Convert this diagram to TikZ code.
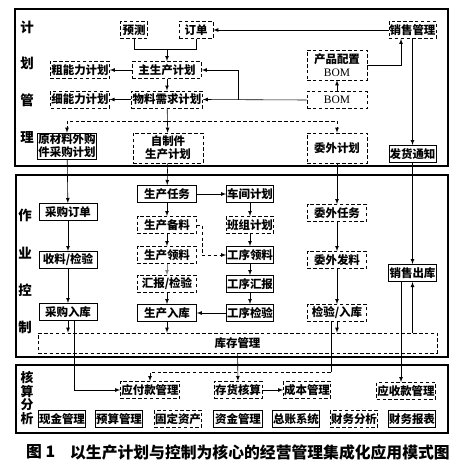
\documentclass[tikz,border=0pt]{standalone}
\usepackage{fontspec}
\setmainfont{Liberation Serif}
\newfontfamily\cjk{Noto Sans CJK SC}
\usepackage{tikz}
\usetikzlibrary{calc}
\usetikzlibrary{shapes,arrows}

\begin{document}
\begin{tikzpicture}[x=0.03cm,y=-0.03cm]
			\tikzstyle{every node}=[font=\cjk\bfseries\fontsize{9.8}{11}\selectfont]
			\tikzstyle{box}=[draw, line width=0.5pt, inner sep=0.5pt, minimum height=0.52cm, minimum width=1.77cm, align=center]
			\tikzstyle{dbox}=[box, densely dashed]
			\tikzstyle{frame}=[line width=1pt]
			\tikzstyle{side}=[font=\cjk\bfseries\fontsize{11.5}{12}\selectfont]
			\useasboundingbox (0,0) rectangle (463,474);
			
			% frames
			\draw [frame] (15,9) rectangle (448,166);
			\draw [frame] (16,175) rectangle (448,357);
			\draw [frame] (16,365) rectangle (448,433);
			
			\node [side] (lj) at (27,27) {计};
			\node [side] (lh) at (27,63) {划};
			\node [side] (lg) at (27,100) {管};
			\node [side] (ll) at (27,137) {理};
			\node [side] (lz) at (25,215) {作};
			\node [side] (ly) at (25,253) {业};
			\node [side] (lk) at (25,290) {控};
			\node [side] (lzh) at (25,327) {制};
			\node [side, align=center, font=\cjk\bfseries\fontsize{11}{11.4}\selectfont] (lhs) at (27,398) {核\\算\\分\\析};
			
			% plan
			\node [dbox, minimum width=0.81cm] (yc) at (134,30) {预测};
			\node [dbox, minimum width=1.02cm] (dd) at (196,30) {订单};
			\node [dbox, minimum width=1.41cm] (xsgl) at (412.5,30) {销售管理};
			\node [dbox, minimum width=2.07cm] (zsc) at (167,70) {主生产计划};
			\node [dbox] (cnl) at (80,70) {粗能力计划};
			\node [dbox, minimum width=1.74cm] (xnl) at (80,99.5) {细能力计划};
			\node [dbox, minimum width=2.13cm] (wlxq) at (167,99.5) {物料需求计划};
			\node [box, minimum height=0.78cm, inner sep=0pt] (ycl) at (67,146) {原材料外购\\件采购计划};
			\node [dbox, minimum width=2.1cm, minimum height=0.9cm] (zzj) at (168,148) {自制件\\生产计划};
			\node [dbox, minimum width=1.8cm, minimum height=0.9cm, inner sep=0pt] (cpbom) at (337,65) {产品配置\\{\rmfamily\mdseries BOM}};
			\node [dbox, minimum width=1.8cm] (bom) at (337,100) {\rmfamily\mdseries BOM};
			\node [dbox, minimum width=1.8cm, minimum height=0.9cm] (wwjh) at (337,148) {委外计划};
			\node [box, minimum width=1.41cm] (fhtz) at (412.5,154) {发货通知};
			
			\coordinate (j1) at (167,49);
			\draw [line width=0.5pt] (yc.south) |- (j1);
			\draw [line width=0.5pt] (dd.south) |- (j1);
			\draw [line width=0.5pt,-latex] (j1) -- (zsc.north);
			\draw [line width=0.5pt,-latex] (xsgl.west) -- (dd.east);
			\draw [line width=0.5pt,-latex] (zsc.west) -- (cnl.east);
			\draw [line width=0.5pt,-latex] (zsc) -- (wlxq);
			\draw [line width=0.5pt,-latex] (wlxq.west) -- (xnl.east);
			\coordinate (j2) at (238,99.5);
			\draw [line width=0.5pt,-latex] (bom.west) -- (wlxq.east);
			\draw [line width=0.5pt,-latex] (j2) |- (zsc.east);
			\draw [line width=0.5pt,-latex] (bom) -- (cpbom);
			\draw [line width=0.5pt,-latex] (cpbom.east) -| ($(xsgl.south)+(-11.5,0)$);
			\draw [line width=0.5pt,-latex] (xsgl) -- (fhtz);
			\draw [line width=0.5pt,-latex] (wlxq) -- (zzj);
			\coordinate (j3) at (167,121);
			\draw [line width=0.5pt,densely dashed,-latex] (j3) -| (ycl.north);
			\draw [line width=0.5pt,densely dashed,-latex] (j3) -| (wwjh.north);
			
			% control
			\node [box, minimum width=1.74cm] (cgdd) at (68,212) {采购订单};
			\node [box, minimum width=1.74cm] (sljy) at (68,260) {收料/检验};
			\node [box, minimum width=1.74cm] (cgrk) at (68,312) {采购入库};
			\node [box] (scrw) at (167,194) {生产任务};
			\node [dbox] (scbl) at (167,225) {生产备料};
			\node [dbox] (scll) at (167,255) {生产领料};
			\node [dbox] (hbjy) at (167,284) {汇报/检验};
			\node [box] (scrk) at (167,313) {生产入库};
			\node [box, minimum width=1.41cm] (cjjh) at (250,194) {车间计划};
			\node [dbox, minimum width=1.41cm] (bzjh) at (250,225) {班组计划};
			\node [box, minimum width=1.41cm] (gxll) at (250,255) {工序领料};
			\node [box, minimum width=1.41cm] (gxhb) at (250,284) {工序汇报};
			\node [box, minimum width=1.41cm] (gxjy) at (250,313) {工序检验};
			\node [dbox] (wwrw) at (337,213) {委外任务};
			\node [dbox] (wwfl) at (337,260) {委外发料};
			\node [dbox] (jyrk) at (337,313) {检验/入库};
			\node [box, minimum width=1.44cm] (xsck) at (412.5,273) {销售出库};
			\node [dbox, minimum width=11.97cm, minimum height=0.6cm] (kcgl) at (237.5,343) {库存管理};
			
			\draw [line width=0.5pt,-latex] (ycl) -- (cgdd);
			\draw [line width=0.5pt,-latex] (cgdd) -- (sljy);
			\draw [line width=0.5pt,-latex] (sljy) -- (cgrk);
			\draw [line width=0.5pt,-latex] (cgrk.south) -- (cgrk.south |- kcgl.north);
			\draw [line width=0.5pt,-latex] (zzj) -- (scrw);
			\draw [line width=0.5pt,-latex] (scrw) -- (cjjh);
			\draw [line width=0.5pt,-latex] (scrw) -- (scbl);
			\draw [line width=0.5pt,-latex] (scbl) -- (scll);
			\draw [line width=0.5pt,-latex,gray] (scll) -- (hbjy);
			\draw [line width=0.5pt,-latex] (hbjy) -- (scrk);
			\draw [line width=0.5pt,densely dashed,-latex] (scbl.east) -- ++(5,0) |- (gxll.west);
			\draw [line width=0.5pt,-latex] (cjjh) -- (bzjh);
			\draw [line width=0.5pt,-latex] (bzjh) -- (gxll);
			\draw [line width=0.5pt,-latex] (gxll) -- (gxhb);
			\draw [line width=0.5pt,-latex] (gxhb) -- (gxjy);
			\draw [line width=0.5pt,-latex] (gxjy) -- (scrk);
			\draw [line width=0.5pt,-latex] (scrk.south) -- (scrk.south |- kcgl.north);
			\draw [line width=0.5pt,-latex] (wwjh) -- (wwrw);
			\draw [line width=0.5pt,-latex] (wwrw) -- (wwfl);
			\draw [line width=0.5pt,-latex] (wwfl) -- (jyrk);
			\draw [line width=0.5pt,-latex] (jyrk.south) -- (jyrk.south |- kcgl.north);
			\draw [line width=0.5pt,-latex] (fhtz) -- (xsck);
			\draw [line width=0.5pt,-latex] (kcgl.north -| xsck) -- (xsck.south);
			
			% accounting
			\node [dbox] (yfk) at (150,390) {应付款管理};
			\node [dbox, minimum width=1.44cm] (chhs) at (238,390) {存货核算};
			\node [dbox, minimum width=1.35cm] (cbgl) at (307,390) {成本管理};
			\node [dbox, minimum width=1.71cm] (ysk) at (406,391) {应收款管理};
			\node [box, minimum width=1.35cm] (xjgl) at (62,419) {现金管理};
			\node [box, minimum width=1.35cm] (ysgl) at (119,419) {预算管理};
			\node [dbox, minimum width=1.41cm] (gdzc) at (178,419) {固定资产};
			\node [box, minimum width=1.47cm] (zjgl) at (238,419) {资金管理};
			\node [box, minimum width=1.41cm] (zzxt) at (296,419) {总账系统};
			\node [dbox, minimum width=1.35cm] (cwfx) at (354,419) {财务分析};
			\node [box, minimum width=1.38cm] (cwbb) at (412,419) {财务报表};
			
			\draw [line width=0.5pt,-latex] ($(cgrk.south)+(6,0)$) |- (yfk.west);
			\coordinate (j4) at (331,372);
			\draw [line width=0.5pt] ($(jyrk.south)+(-6,0)$) -- (j4);
			\draw [line width=0.5pt,densely dashed,-latex] (j4) -| (yfk.north);
			\draw [line width=0.5pt,-latex] ($(xsck.south)+(-11.5,0)$) coordinate (s1) -- (s1 |- ysk.north);
			\draw [line width=0.5pt,-latex] (kcgl) -- (chhs);
			\draw [line width=0.5pt,-latex] (chhs) -- (cbgl);
			
			\node [anchor=west, font=\cjk\bfseries\fontsize{13.5}{15}\selectfont] (tu) at (22,452) {图 1};
			\node [anchor=west, font=\cjk\bfseries\fontsize{13.5}{15}\selectfont] (title) at (66,452) {以生产计划与控制为核心的经营管理集成化应用模式图};
			
			\end{tikzpicture}
\end{document}
